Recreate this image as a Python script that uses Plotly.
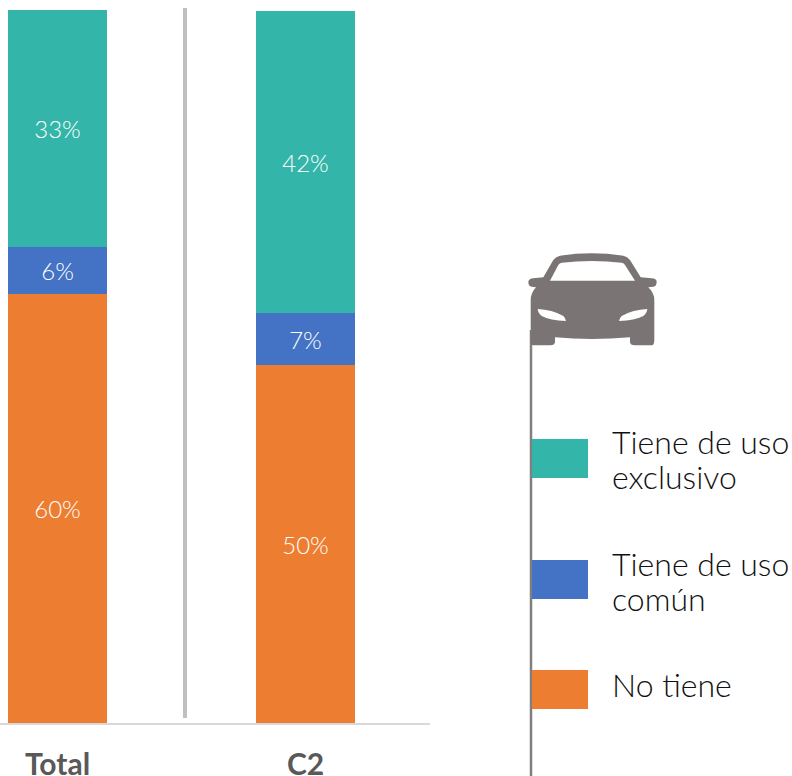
"""Tenencia de auto: Total vs C2."""

import plotly.graph_objects as go

categories = ["Total", "C2"]
no_tiene = [59.9, 50]
uso_comun = [6.6, 7.2]
uso_exclusivo = [33.1, 42.3]

label_no_tiene = ["60%", "50%"]
label_comun = ["6%", "7%"]
label_exclusivo = ["33%", "42%"]

legend_lines = ["Tiene de uso", "exclusivo", "Tiene de uso", "común", "No tiene"]

TEAL = "#33b5a9"
BLUE = "#4472c4"
ORANGE = "#ed7d31"
FONT = "Lato"

CAR_PATH = (
    "M528.3,281.7 Q529,278.5 533.3,278.3 L543.3,277.3 L553.3,260 Q556,256.5 560,255.7 "
    "Q591.7,251 623.3,255.7 Q627.5,256.5 630,260 L640.7,277.3 L651.7,278.3 "
    "Q656.5,278.5 656.7,281.7 Q656.5,286.5 653.3,286.7 L648.3,287.3 Q654.3,293 654.3,300 "
    "L654.3,340 Q654.3,345.3 651.7,345.3 L635,345.3 Q630,345.3 630,341.7 L630,337.3 "
    "Q591.7,340.5 555,337.3 L555,341.7 Q555,345.3 550,345.3 L533.3,345.3 "
    "Q530.7,345.3 530.7,340 L530.7,300 Q530.7,293 536,287.3 L531.7,286.7 "
    "Q528.5,286.5 528.3,281.7 Z "
    "M550,280.7 L558.3,265 Q559.5,263 561.7,262.7 Q591.7,259.5 621.7,262.7 "
    "Q624,263 625,265 L635,280.7 Z "
    "M537.7,309 Q552,309.5 563.3,316 Q565.5,318 566,321 Q550,320.5 541.7,316 Q538,313 537.7,309 Z "
    "M647.3,309 Q633,309.5 621.7,316 Q619.5,318 619,321 Q635,320.5 643.3,316 Q647,313 647.3,309 Z"
)

fig = go.Figure()

for name, values, labels, color in [
    ("No tiene", no_tiene, label_no_tiene, ORANGE),
    ("Tiene de uso común", uso_comun, label_comun, BLUE),
    ("Tiene de uso exclusivo", uso_exclusivo, label_exclusivo, TEAL),
]:
    fig.add_trace(go.Bar(
        x=categories,
        y=values,
        name=name,
        width=0.4,
        marker=dict(color=color, line=dict(width=0)),
        text=labels,
        textposition="inside",
        insidetextanchor="middle",
        textangle=0,
        insidetextfont=dict(family=FONT, size=24, color="white", weight=300),
        showlegend=False,
    ))

# invisible full-page axes so icon and key can be placed in page pixels
fig.add_trace(go.Scatter(x=[0], y=[0], xaxis="x2", yaxis="y2", mode="none", showlegend=False))

shapes = [
    dict(type="line", xref="x2", yref="y2", x0=185, x1=185, y0=8, y1=718,
         line=dict(color="#bfbfbf", width=4)),
    dict(type="line", xref="x2", yref="y2", x0=531, x1=531, y0=330, y1=776,
         line=dict(color="#7f7f7f", width=2.5)),
    dict(type="path", xref="x2", yref="y2", path=CAR_PATH, fillcolor="#7a7574",
         fillrule="evenodd", line=dict(width=0)),
]
for top, color in [(439, TEAL), (560, BLUE), (670, ORANGE)]:
    shapes.append(dict(type="rect", xref="x2", yref="y2", x0=532, x1=588, y0=top, y1=top + 39,
                       fillcolor=color, line=dict(width=0)))

annotations = [
    dict(xref="x2", yref="y2", x=610, y=y, text=text, showarrow=False, xanchor="left",
         yanchor="middle", align="left", font=dict(family=FONT, size=32, color="#111111", weight=300))
    for y, text in zip([441, 476, 563, 598, 684], legend_lines)
]

fig.update_layout(
    barmode="stack",
    width=792,
    height=776,
    margin=dict(l=0, r=0, t=0, b=0),
    paper_bgcolor="white",
    plot_bgcolor="rgba(0,0,0,0)",
    shapes=shapes,
    annotations=annotations,
    xaxis=dict(
        domain=[0, 430 / 792],
        type="category",
        range=[-0.232, 1.502],
        showline=True,
        linecolor="#d9d9d9",
        linewidth=2,
        showgrid=False,
        ticks="outside",
        ticklen=14,
        tickcolor="rgba(0,0,0,0)",
        tickfont=dict(family=FONT, size=30, color="#595959", weight="bold"),
        automargin=False,
    ),
    yaxis=dict(
        domain=[53 / 776, 1],
        range=[0, 100.98],
        visible=False,
    ),
    xaxis2=dict(domain=[0, 1], range=[0, 792], visible=False, anchor="y2"),
    yaxis2=dict(domain=[0, 1], range=[776, 0], visible=False, anchor="x2"),
)

fig.write_html(
    "out.html",
    config={"displayModeBar": False},
    post_script="document.body.style.margin = '0';",
)
